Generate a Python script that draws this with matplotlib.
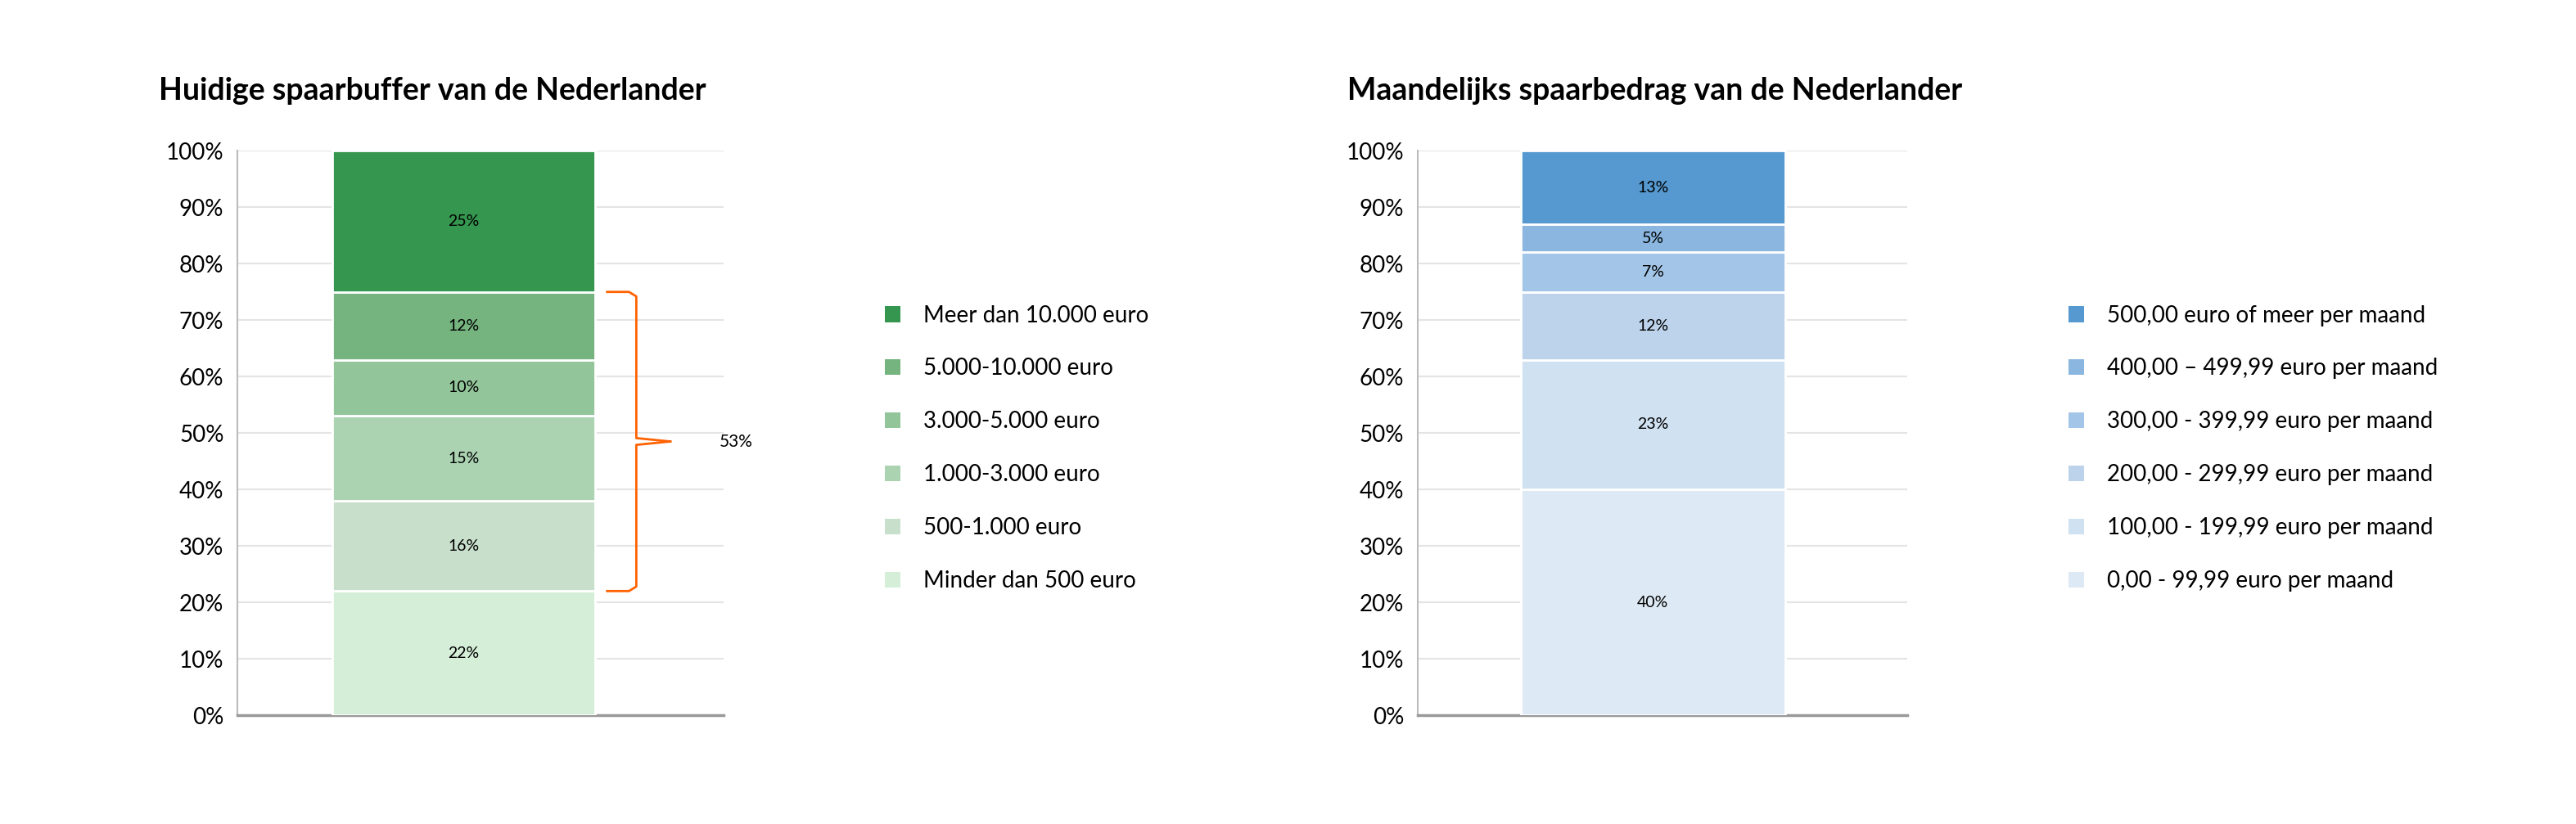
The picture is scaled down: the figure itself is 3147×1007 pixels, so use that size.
import matplotlib

matplotlib.use("Agg")

import matplotlib.pyplot as plt
import numpy as np
from matplotlib.patches import Patch

plt.rcParams["font.family"] = ["Lato", "DejaVu Sans"]

buffer_labels = ["Minder dan 500 euro", "500-1.000 euro", "1.000-3.000 euro",
                 "3.000-5.000 euro", "5.000-10.000 euro", "Meer dan 10.000 euro"]
buffer_values = [22, 16, 15, 10, 12, 25]
buffer_colors = ["#d5eed8", "#c8e0cb", "#abd3b2", "#92c59a", "#75b47f", "#35964f"]

monthly_labels = ["0,00 - 99,99 euro per maand", "100,00 - 199,99 euro per maand",
                  "200,00 - 299,99 euro per maand", "300,00 - 399,99 euro per maand",
                  "400,00 \u2013 499,99 euro per maand", "500,00 euro of meer per maand"]
monthly_values = [40, 23, 12, 7, 5, 13]
monthly_colors = ["#dde9f4", "#d0e1f2", "#bdd3ec", "#a3c6e8", "#8ab6df", "#5599d0"]

brace_value = 53

fig = plt.figure(figsize=(31.47, 10.07), dpi=100)


def stacked(ax, values, colors, xc):
    bottom = 0
    for v, c in zip(values, colors):
        ax.bar(xc, v, width=0.54, bottom=bottom, color=c, edgecolor="white",
               linewidth=2, zorder=3)
        ax.text(xc, bottom + v / 2, f"{v}%", ha="center", va="center",
                fontsize=14, zorder=4)
        bottom += v
    ax.set_xlim(0, 1)
    ax.set_ylim(0, 100)
    ax.set_yticks(np.arange(0, 101, 10))
    ax.set_yticklabels([f"{t}%" for t in range(0, 101, 10)], fontsize=20)
    ax.set_xticks([])
    ax.tick_params(axis="y", length=0, pad=12)
    ax.grid(axis="y", color="#e4e4e4", linewidth=1.5, zorder=0)
    for s in ["top", "right"]:
        ax.spines[s].set_visible(False)
    ax.spines["left"].set_color("#bbbbbb")
    ax.spines["left"].set_linewidth(1.5)
    ax.spines["bottom"].set_color("#999999")
    ax.spines["bottom"].set_linewidth(2.5)


ax1 = fig.add_axes([0.0922, 0.132, 0.1888, 0.685])
stacked(ax1, buffer_values, buffer_colors, 0.465)
ax2 = fig.add_axes([0.5504, 0.132, 0.19, 0.685])
stacked(ax2, monthly_values, monthly_colors, 0.48)

# curly brace over the middle four segments
lo = buffer_values[0]
hi = sum(buffer_values[:5])
mid = (lo + hi) / 2
xa, xb, xc = 0.76, 0.82, 0.89
ax1.plot([xa, xb - 0.015, xb, xb, xc], [hi, hi, hi - 0.8, mid + 0.6, mid],
         color="#ff6200", lw=2, clip_on=False)
ax1.plot([xa, xb - 0.015, xb, xb, xc], [lo, lo, lo + 0.8, mid - 0.6, mid],
         color="#ff6200", lw=2, clip_on=False)
ax1.text(0.99, mid, f"{brace_value}%", ha="left", va="center", fontsize=15, clip_on=False)

fig.text(0.0617, 0.89, "Huidige spaarbuffer van de Nederlander", fontsize=27,
         fontweight="bold", va="center")
fig.text(0.523, 0.89, "Maandelijks spaarbedrag van de Nederlander", fontsize=27,
         fontweight="bold", va="center")


def legend(labels, colors, x):
    handles = [Patch(facecolor=c, edgecolor="none") for c in colors[::-1]]
    fig.legend(handles, labels[::-1], loc="upper left", bbox_to_anchor=(x, 0.63),
               frameon=False, fontsize=20, handlelength=0.7, handleheight=0.7,
               labelspacing=1.4, handletextpad=1.0, borderpad=0, borderaxespad=0)


legend(buffer_labels, buffer_colors, 0.3435)
legend(monthly_labels, monthly_colors, 0.803)

fig.savefig("out.png", dpi=100)
